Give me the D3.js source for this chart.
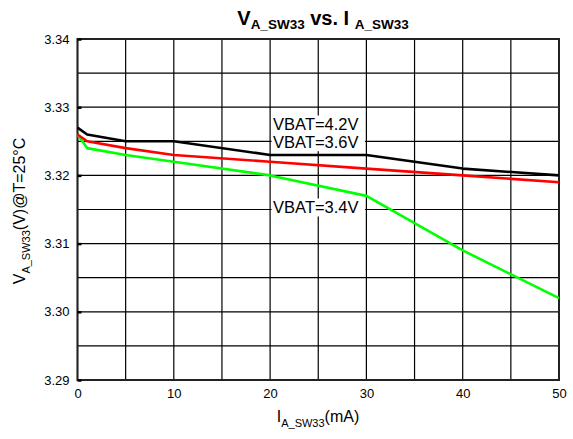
<!DOCTYPE html>
<html>
<head>
<meta charset="utf-8">
<script src="https://cdn.jsdelivr.net/npm/d3@7"></script>
<style>
body{margin:0;background:#fff;}
svg{display:block;font-family:"Liberation Sans",Arial,sans-serif;}
</style>
</head>
<body>
<svg id="chart" width="573" height="439"></svg>
<script>
const current = [0, 1, 5, 10, 20, 30, 40, 50];
const vbat42 = [3.327, 3.326, 3.325, 3.325, 3.323, 3.323, 3.321, 3.320];
const vbat36 = [3.326, 3.325, 3.324, 3.323, 3.322, 3.321, 3.320, 3.319];
const vbat34 = [3.326, 3.324, 3.323, 3.322, 3.320, 3.317, 3.309, 3.302];
const seriesNames = ["VBAT=4.2V", "VBAT=3.6V", "VBAT=3.4V"];
const seriesColors = ["#000000", "#ff0000", "#00ff00"];
const xTicks = [0, 10, 20, 30, 40, 50];
const yTicks = [3.29, 3.30, 3.31, 3.32, 3.33, 3.34];
const xGrid = [0, 5, 10, 15, 20, 25, 30, 35, 40, 45, 50];
const yGrid = [3.29, 3.295, 3.30, 3.305, 3.31, 3.315, 3.32, 3.325, 3.33, 3.335, 3.34];
// label baseline anchors (x mA, y V)
const labelPos = [[20, 3.32666], [20, 3.32406], [20, 3.31449]];

const svg = d3.select("#chart");
const L = 77.5, R = 559, T = 39, B = 380;
const x = d3.scaleLinear().domain([0, 50]).range([L, R]);
const y = d3.scaleLinear().domain([3.29, 3.34]).range([B, T]);

// grid
const g = svg.append("g");
g.selectAll("line.vx").data(xGrid).enter().append("line")
  .attr("x1", d => x(d)).attr("x2", d => x(d)).attr("y1", T).attr("y2", B)
  .attr("stroke", "#000").attr("stroke-width", 1.2);
g.selectAll("line.hy").data(yGrid).enter().append("line")
  .attr("y1", d => y(d)).attr("y2", d => y(d)).attr("x1", L).attr("x2", R)
  .attr("stroke", "#000").attr("stroke-width", 1.2);

// frame
svg.append("rect").attr("x", L).attr("y", T).attr("width", R - L).attr("height", B - T)
  .attr("fill", "none").attr("stroke", "#222").attr("stroke-width", 2);

// axes
const yAxis = svg.append("g").attr("transform", `translate(${L},0)`)
  .call(d3.axisLeft(y).tickValues(yTicks).tickFormat(d3.format(".2f")).tickSize(4).tickPadding(4));
yAxis.select(".domain").remove();
yAxis.selectAll(".tick line").attr("x2", 4).attr("stroke-width", 2.5).attr("stroke", "#000");
yAxis.selectAll("text").attr("font-size", 13).attr("fill", "#000").attr("font-family", "Liberation Sans, Arial, sans-serif");

const xAxis = svg.append("g").attr("transform", `translate(0,${B})`)
  .call(d3.axisBottom(x).tickValues(xTicks).tickSize(0).tickPadding(9));
xAxis.select(".domain").remove();
xAxis.selectAll("text").attr("font-size", 13).attr("fill", "#000").attr("font-family", "Liberation Sans, Arial, sans-serif");

// labels with white boxes (behind curves)
const labG = svg.append("g");
labelPos.forEach((p, i) => {
  const cx = x(p[0]), cy = y(p[1]);
  labG.append("rect")
    .attr("x", cx + 1.5).attr("y", cy - 14.5)
    .attr("width", x(30) - cx - 3).attr("height", 18)
    .attr("fill", "#fff");
});
labelPos.forEach((p, i) => {
  const cx = x(p[0]), cy = y(p[1]);
  labG.append("text").attr("x", cx + 3).attr("y", cy)
    .attr("font-size", 16.5).attr("fill", "#000").text(seriesNames[i]);
});

// lines
const allSeries = [vbat42, vbat36, vbat34];
const line = d3.line().x((d, i) => x(current[i])).y(d => y(d));
[2, 1, 0].forEach(k => {
  svg.append("path").datum(allSeries[k])
    .attr("d", line).attr("fill", "none")
    .attr("stroke", seriesColors[k]).attr("stroke-width", 2.6)
    .attr("stroke-linejoin", "round");
});

// title
const title = svg.append("text").attr("x", 323).attr("y", 25)
  .attr("text-anchor", "middle").attr("font-weight", "bold").attr("font-size", 20);
title.append("tspan").text("V");
title.append("tspan").attr("font-size", 13.5).attr("dy", 4).text("A_SW33");
title.append("tspan").attr("dy", -4).text(" vs. I ");
title.append("tspan").attr("font-size", 13.5).attr("dy", 4).text("A_SW33");

// x label
const xl = svg.append("text").attr("x", 318).attr("y", 422)
  .attr("text-anchor", "middle").attr("font-size", 16);
xl.append("tspan").text("I");
xl.append("tspan").attr("font-size", 11).attr("dy", 5).text("A_SW33");
xl.append("tspan").attr("dy", -5).text("(mA)");

// y label
const yl = svg.append("text").attr("transform", "translate(25,211) rotate(-90)")
  .attr("text-anchor", "middle").attr("font-size", 16);
yl.append("tspan").text("V");
yl.append("tspan").attr("font-size", 11).attr("dy", 5).text("A_SW33");
yl.append("tspan").attr("dy", -5).text("(V)@T=25°C");
</script>
</body>
</html>
